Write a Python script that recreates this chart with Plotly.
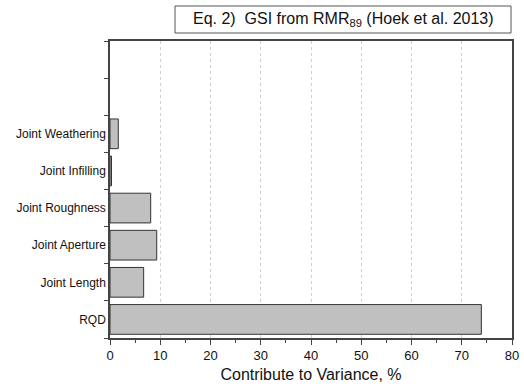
import plotly.graph_objects as go

categories = ["RQD", "Joint Length", "Joint Aperture", "Joint Roughness",
              "Joint Infilling", "Joint Weathering", " ", "  "]
values = [73.9, 6.7, 9.3, 8.1, 0.3, 1.65, None, None]
x_ticks = [0, 10, 20, 30, 40, 50, 60, 70, 80]

fig = go.Figure()
fig.add_trace(go.Bar(
    y=categories, x=values, orientation="h",
    marker=dict(color="#c0c0c0", line=dict(color="#333333", width=1)),
    width=0.8,
))

axis_col = "#444444"
fig.update_layout(
    width=524, height=388,
    margin=dict(l=110, r=12, t=41, b=50, autoexpand=False),
    paper_bgcolor="white", plot_bgcolor="white",
    showlegend=False,
    font=dict(family="Liberation Sans, Arial, sans-serif", color="#111111"),
    xaxis=dict(
        range=[0, 80], tickvals=x_ticks, automargin=False,
        ticks="outside", ticklen=5, tickwidth=1, tickcolor=axis_col,
        minor=dict(dtick=5, ticks="outside", ticklen=3, tickcolor=axis_col, showgrid=False),
        showline=True, linecolor=axis_col, linewidth=1.5, mirror=True,
        showgrid=True, gridcolor="#d0d0d0", griddash="dot", gridwidth=1,
        zeroline=False,
        tickfont=dict(size=13),
        title=dict(text="Contribute to Variance, %", font=dict(size=16), standoff=6),
    ),
    yaxis=dict(
        categoryorder="array", categoryarray=categories, automargin=False,
        tickson="boundaries", ticks="outside", ticklen=4, tickwidth=1, tickcolor=axis_col,
        showline=True, linecolor=axis_col, linewidth=1.5, mirror=True,
        showgrid=False, zeroline=False,
        tickfont=dict(size=12),
        range=[-0.5, 7.5],
    ),
    bargap=0.2,
)

fig.add_shape(type="rect", xref="paper", yref="paper",
              x0=(175 - 110) / 402, x1=(511 - 110) / 402,
              y0=(388 - 50 - 33) / 297, y1=(388 - 50 - 6) / 297,
              line=dict(color="#555555", width=1), fillcolor="white")
fig.add_annotation(
    xref="paper", yref="paper",
    x=(343 - 110) / 402, y=(388 - 50 - 20) / 297,
    text="Eq. 2)  GSI from RMR<sub>89</sub> (Hoek et al. 2013)",
    showarrow=False, font=dict(size=16, color="#111111"),
    xanchor="center", yanchor="middle",
)

fig.write_html("out.html")
